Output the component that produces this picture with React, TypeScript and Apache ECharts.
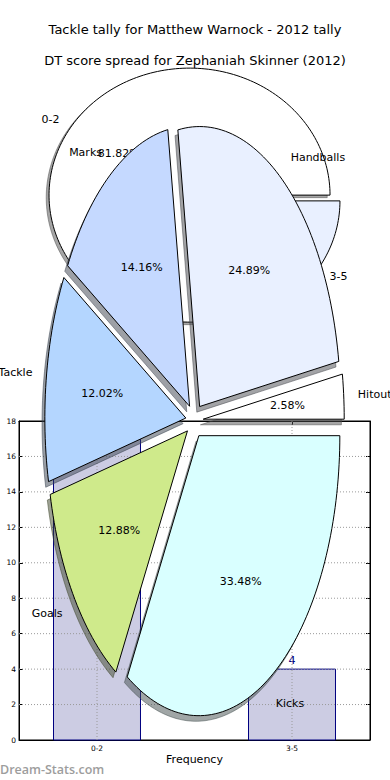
import React, { useEffect, useRef } from 'react';
import * as echarts from 'echarts';

// ---------- texts ----------
const TITLE_1 = 'Tackle tally for Matthew Warnock - 2012 tally';
const TITLE_2 = 'DT score spread for Zephaniah Skinner (2012)';
const X_NAME = 'Frequency';
const Y_NAME = 'Stat Interval';
const WATERMARK = 'Dream-Stats.com';

// ---------- bar chart data ----------
const barCategories = ['0-2', '3-5'];
const barValues = [18, 4];
const yTicks = [0, 2, 4, 6, 8, 10, 12, 14, 16, 18];

// ---------- outer pie (same intervals) ----------
const outerLabels = ['0-2', '3-5'];
const outerValues = [18, 4];
const outerColors = ['#ffffff', '#e9f0ff'];

// ---------- inner pie ----------
const innerLabels = ['Hitout', 'Handballs', 'Marks', 'Tackle', 'Goals', 'Kicks'];
const innerValues = [12, 116, 66, 56, 60, 156];
const innerColors = ['#ffffff', '#e9f0ff', '#c5d9ff', '#b4d6ff', '#cfea8b', '#d9ffff'];

const FONT = 'DejaVu Sans';
const X_MIN = -0.4;
const X_MAX = 1.4;
const BAR_WIDTH = 0.446; // in axis units

function hexToRgb(hex: string) {
  const h = hex.replace('#', '');
  return [parseInt(h.slice(0, 2), 16), parseInt(h.slice(2, 4), 16), parseInt(h.slice(4, 6), 16)];
}

type Geom = { cx: number; cy: number; rx: number; ry: number; explode: number; z: number };

function makePieSeries(labels: string[], values: number[], colors: string[], g: Geom) {
  const total = values.reduce((a, b) => a + b, 0);
  const starts: number[] = [];
  let acc = 0;
  values.forEach((v) => {
    starts.push(acc);
    acc += v;
  });
  return {
    type: 'custom',
    coordinateSystem: 'none',
    silent: true,
    z: g.z,
    data: values.map((v, i) => [i, v]),
    renderItem: (params: any) => {
      const i = params.dataIndex;
      const v = values[i];
      const a0 = (starts[i] / total) * Math.PI * 2;
      const a1 = ((starts[i] + v) / total) * Math.PI * 2;
      const mid = (a0 + a1) / 2;
      const ox = g.cx + g.explode * g.rx * Math.cos(mid);
      const oy = g.cy - g.explode * g.ry * Math.sin(mid);
      const pts: number[][] = [[ox, oy]];
      const n = Math.max(4, Math.ceil((a1 - a0) / (Math.PI / 120)));
      for (let k = 0; k <= n; k++) {
        const a = a0 + ((a1 - a0) * k) / n;
        pts.push([ox + g.rx * Math.cos(a), oy - g.ry * Math.sin(a)]);
      }
      const sdx = -0.02 * g.rx;
      const sdy = 0.02 * g.ry;
      const shadowPts = pts.map((p) => [p[0] + sdx, p[1] + sdy]);
      const [r, gg, b] = hexToRgb(colors[i]);
      const shadow = `rgba(${Math.round(r * 0.3)},${Math.round(gg * 0.3)},${Math.round(b * 0.3)},0.5)`;
      const lx = ox + 1.1 * g.rx * Math.cos(mid);
      const ly = oy - 1.1 * g.ry * Math.sin(mid);
      const px = ox + 0.6 * g.rx * Math.cos(mid);
      const py = oy - 0.6 * g.ry * Math.sin(mid);
      const pct = ((v / total) * 100).toFixed(2) + '%';
      return {
        type: 'group',
        children: [
          {
            type: 'polygon',
            z2: 0,
            shape: { points: shadowPts },
            style: { fill: shadow, stroke: shadow, lineWidth: 1 },
          },
          {
            type: 'polygon',
            z2: 10,
            shape: { points: pts },
            style: { fill: colors[i], stroke: '#000', lineWidth: 1, lineJoin: 'miter' },
          },
          {
            type: 'text',
            z2: 20,
            x: lx,
            y: ly,
            style: {
              text: labels[i],
              fill: '#000',
              fontSize: 11,
              fontFamily: FONT,
              align: Math.cos(mid) > 0 ? 'left' : 'right',
              verticalAlign: 'middle',
            },
          },
          {
            type: 'text',
            z2: 20,
            x: px,
            y: py,
            style: {
              text: pct,
              fill: '#000',
              fontSize: 11,
              fontFamily: FONT,
              align: 'center',
              verticalAlign: 'middle',
            },
          },
        ],
      };
    },
  };
}

export default function App() {
  const ref = useRef<HTMLDivElement>(null);
  useEffect(() => {
    document.body.style.margin = '0';
    if (!ref.current) return;
    const chart = echarts.init(ref.current, null, { renderer: 'svg' });
    const tickIdx = barCategories.map((_, i) => i);
    const axisCommon = {
      axisLine: { show: true, onZero: false, lineStyle: { color: '#000', width: 1 } },
      splitLine: { show: false },
    };
    const yMin = yTicks[0];
    const yMax = yTicks[yTicks.length - 1];
    const gridLineStyle = { stroke: '#9a9a9a', lineWidth: 1, lineDash: [1, 2] };
    const option: any = {
      animation: false,
      backgroundColor: '#fff',
      title: [
        {
          text: TITLE_1,
          left: 'center',
          top: 23,
          padding: 0,
          textStyle: { fontSize: 13, fontWeight: 'normal', fontFamily: FONT, color: '#000' },
        },
        {
          text: TITLE_2,
          left: 'center',
          top: 54,
          padding: 0,
          textStyle: { fontSize: 13, fontWeight: 'normal', fontFamily: FONT, color: '#000' },
        },
      ],
      grid: {
        left: 19,
        top: 421,
        width: 351,
        height: 319,
        containLabel: false,
        outerBoundsMode: 'none',
        show: true,
        borderColor: '#000',
        borderWidth: 1,
        backgroundColor: '#fff',
      },
      xAxis: [
        {
          type: 'value',
          min: X_MIN,
          max: X_MAX,
          position: 'bottom',
          ...axisCommon,
          axisTick: { show: true, inside: true, length: 4, customValues: tickIdx, lineStyle: { color: '#000' } },
          axisLabel: {
            customValues: tickIdx,
            formatter: (v: number) => barCategories[Math.round(v)] ?? '',
            fontSize: 7.5,
            fontFamily: FONT,
            color: '#000',
            margin: 4,
          },
          name: X_NAME,
          nameLocation: 'middle',
          nameGap: 14,
          nameTextStyle: { fontSize: 11, fontFamily: FONT, color: '#000' },
        },
        {
          type: 'value',
          min: X_MIN,
          max: X_MAX,
          position: 'top',
          ...axisCommon,
          axisTick: { show: true, inside: true, length: 4, customValues: tickIdx, lineStyle: { color: '#000' } },
          axisLabel: { show: false },
        },
      ],
      yAxis: [
        {
          type: 'value',
          min: yMin,
          max: yMax,
          interval: yTicks[1] - yTicks[0],
          position: 'left',
          ...axisCommon,
          axisTick: { show: true, inside: true, length: 4, lineStyle: { color: '#000' } },
          axisLabel: {
            fontSize: 7.5,
            fontFamily: FONT,
            color: '#000',
            margin: 3,
            showMinLabel: true,
            showMaxLabel: true,
          },
          name: Y_NAME,
          nameLocation: 'middle',
          nameGap: 17,
          nameRotate: 90,
          nameTextStyle: { fontSize: 11, fontFamily: FONT, color: '#000' },
        },
        {
          type: 'value',
          min: yMin,
          max: yMax,
          interval: yTicks[1] - yTicks[0],
          position: 'right',
          ...axisCommon,
          axisTick: { show: true, inside: true, length: 4, lineStyle: { color: '#000' } },
          axisLabel: { show: false },
        },
      ],
      graphic: [
        {
          type: 'text',
          left: 0,
          top: 763,
          style: { text: WATERMARK, fill: '#9d9d9d', fontSize: 12.5, fontFamily: 'Open Sans', fontWeight: 600 },
          z: 1,
        },
      ],
      series: [
        // bars
        {
          type: 'custom',
          xAxisIndex: 0,
          yAxisIndex: 0,
          z: 2,
          silent: true,
          data: barValues.map((v, i) => [i, v]),
          encode: { x: 0, y: 1 },
          renderItem: (params: any, api: any) => {
            const xi = api.value(0);
            const v = api.value(1);
            const top = api.coord([xi, v]);
            const base = api.coord([xi, 0]);
            const w = api.size([BAR_WIDTH, 0])[0];
            return {
              type: 'group',
              children: [
                {
                  type: 'rect',
                  shape: { x: top[0] - w / 2, y: top[1], width: w, height: base[1] - top[1] },
                  style: { fill: '#ccccE3', stroke: '#000080', lineWidth: 1 },
                },
                {
                  type: 'text',
                  x: top[0],
                  y: top[1] - 3,
                  style: {
                    text: String(v),
                    fill: '#000080',
                    fontSize: 11,
                    fontFamily: FONT,
                    align: 'center',
                    verticalAlign: 'bottom',
                  },
                },
              ],
            };
          },
        },
        // dotted grid lines drawn above the bars
        {
          type: 'custom',
          xAxisIndex: 0,
          yAxisIndex: 0,
          z: 3,
          silent: true,
          data: yTicks.slice(1, -1).map((t) => [X_MIN, t]),
          encode: { x: 0, y: 1 },
          renderItem: (params: any, api: any) => {
            const t = api.value(1);
            const p0 = api.coord([X_MIN, t]);
            const p1 = api.coord([X_MAX, t]);
            return {
              type: 'line',
              shape: { x1: p0[0], y1: p0[1], x2: p1[0], y2: p1[1] },
              style: gridLineStyle,
            };
          },
        },
        {
          type: 'custom',
          xAxisIndex: 0,
          yAxisIndex: 0,
          z: 3,
          silent: true,
          data: tickIdx.map((i) => [i, yMin]),
          encode: { x: 0, y: 1 },
          renderItem: (params: any, api: any) => {
            const xi = api.value(0);
            const p0 = api.coord([xi, yMin]);
            const p1 = api.coord([xi, yMax]);
            return {
              type: 'line',
              shape: { x1: p0[0], y1: p0[1], x2: p1[0], y2: p1[1] },
              style: gridLineStyle,
            };
          },
        },
        makePieSeries(outerLabels, outerValues, outerColors, {
          cx: 194.5,
          cy: 198,
          rx: 140.5,
          ry: 127,
          explode: 0.042,
          z: 5,
        }),
        makePieSeries(innerLabels, innerValues, innerColors, {
          cx: 194.5,
          cy: 420.6,
          rx: 141,
          ry: 280,
          explode: 0.062,
          z: 6,
        }),
      ],
    };
    chart.setOption(option);
    return () => chart.dispose();
  }, []);
  return <div ref={ref} style={{ width: 390, height: 780 }} />;
}
